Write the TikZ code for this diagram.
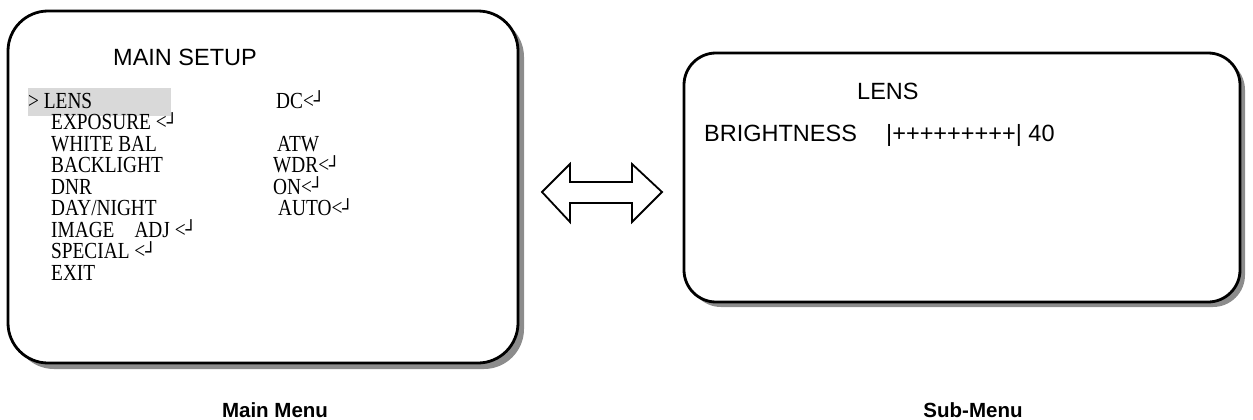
\documentclass[tikz,border=0pt]{standalone}
\usepackage{fontspec}
\setmainfont{Liberation Sans}
\newfontfamily\menufont[FakeStretch=0.84]{Liberation Serif}
\newfontfamily\boxsym{DejaVu Sans}
\definecolor{hlgray}{gray}{0.85}
\definecolor{shadowgray}{gray}{0.55}
\newcommand{\rtn}{<{\boxsym\fontsize{18}{18}\selectfont\raisebox{0.8pt}{┘}}}
\begin{document}
\begin{tikzpicture}[x=1pt,y=-1pt,
  screen/.style={draw=black, line width=2.8pt, fill=white},
  mtext/.style={anchor=base west, inner sep=0, font=\menufont\fontsize{23}{23}\selectfont},
  stext/.style={anchor=base west, inner sep=0, font=\fontsize{23.5}{24}\selectfont},
  caption/.style={anchor=base, inner sep=0, font=\bfseries\fontsize{20.5}{21}\selectfont},
  dblarrow/.style={draw=black, line width=1.8pt, fill=white, line join=miter}]
\useasboundingbox (0,0) rectangle (1253,420);
% main menu screen
\fill[shadowgray, rounded corners=40pt] (14,17) rectangle (524,369);
\draw[screen, rounded corners=40pt] (8,11) rectangle (518,363);
\fill[hlgray] (28,88) rectangle (171,116);
\node[stext] (title) at (113,66) {MAIN SETUP};
\node[mtext] (lens) at (28,108.3) {> LENS};
\node[mtext] (exposure) at (51,129.8) {EXPOSURE \rtn};
\node[mtext] (white) at (51,151.3) {WHITE BAL};
\node[mtext] (back) at (51,172.8) {BACKLIGHT};
\node[mtext] (dnr) at (51,194.3) {DNR};
\node[mtext] (day) at (51,215.8) {DAY/NIGHT};
\node[mtext] (image) at (51,237.3) {IMAGE\hspace{20pt}ADJ \rtn};
\node[mtext] (special) at (51,258.8) {SPECIAL \rtn};
\node[mtext] (exit) at (51,280.3) {EXIT};
\node[mtext] (dc) at (276,108.3) {DC\rtn};
\node[mtext] (atw) at (277,151.3) {ATW};
\node[mtext] (wdr) at (273,172.8) {WDR\rtn};
\node[mtext] (on) at (273,194.3) {ON\rtn};
\node[mtext] (auto) at (278,215.8) {AUTO\rtn};
% double arrow
\draw[dblarrow] (542,192) -- (570,164) -- (570,182) -- (632,182) -- (632,164)
  -- (662,192) -- (632,222) -- (632,203) -- (570,203) -- (570,222) -- cycle;
% sub menu screen
\fill[shadowgray, rounded corners=32pt] (689,58) rectangle (1245,307);
\draw[screen, rounded corners=32pt] (684,53) rectangle (1240,302);
\node[stext] (sublens) at (857,99.3) {LENS};
\node[stext] (bright) at (704,141.7) {BRIGHTNESS};
\node[stext] (bar) at (886,141.7) {|+++++++++| 40};
% captions
\node[caption] (maincap) at (275,417) {Main Menu};
\node[caption] (subcap) at (973,417) {Sub-Menu};
\end{tikzpicture}
\end{document}
